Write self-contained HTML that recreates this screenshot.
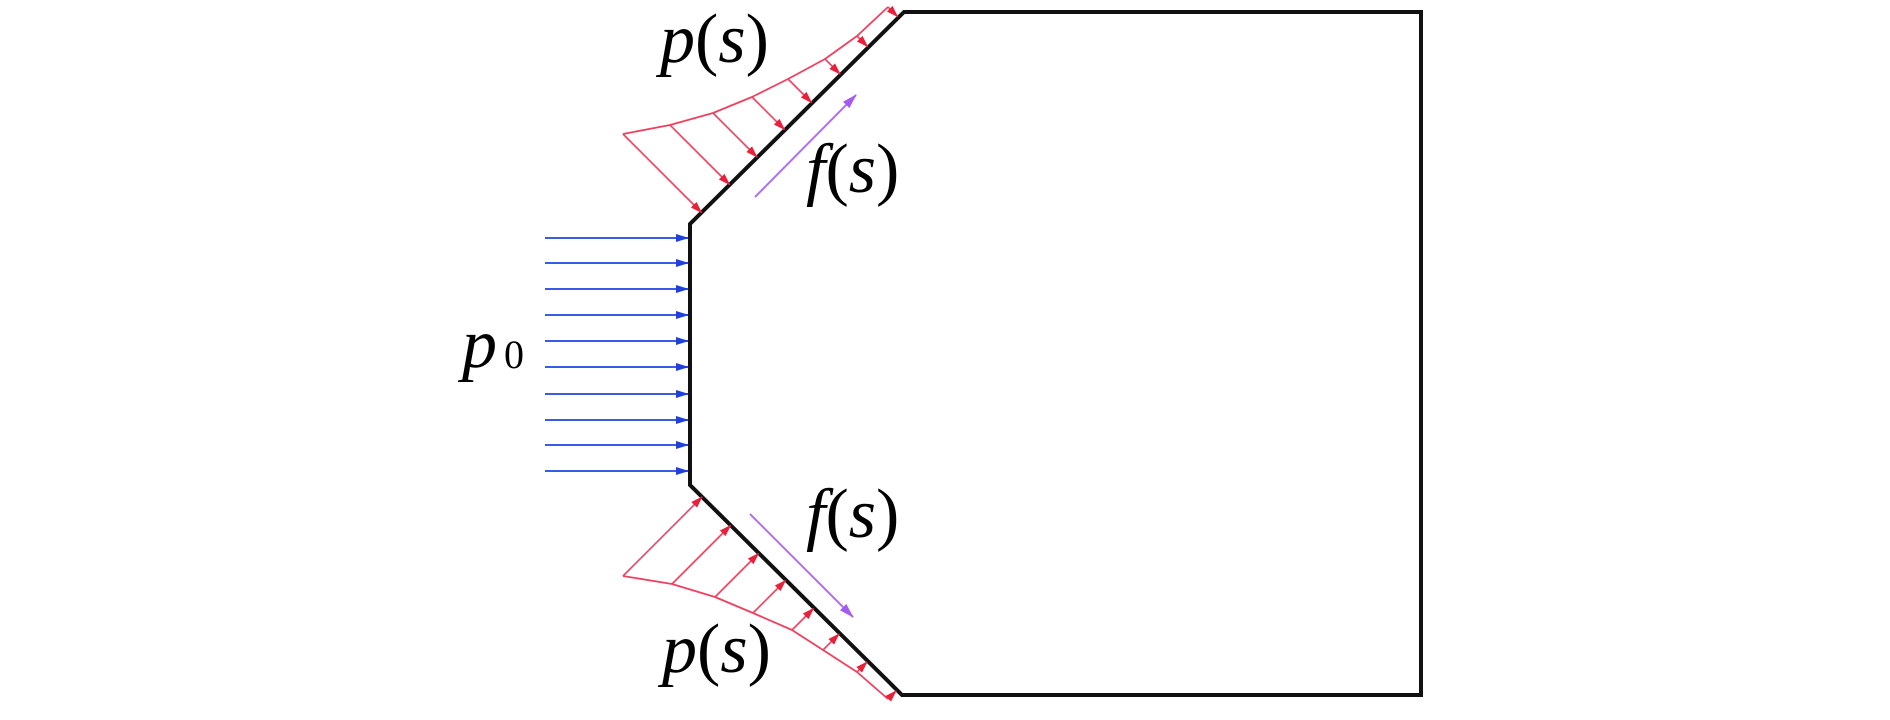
<!DOCTYPE html>
<html><head><meta charset="utf-8"><style>
html,body{margin:0;padding:0;background:#fff;}
svg{display:block;}
</style></head><body>
<svg width="1890" height="720" viewBox="0 0 1890 720" xmlns="http://www.w3.org/2000/svg">
<defs>
<marker id="ar" markerWidth="12" markerHeight="9" refX="11" refY="4.5" orient="auto" markerUnits="userSpaceOnUse"><path d="M0,0.5 L12,4.5 L0,8.5 z" fill="#e8203a"/></marker>
<marker id="ab" markerWidth="13" markerHeight="9" refX="12" refY="4.5" orient="auto" markerUnits="userSpaceOnUse"><path d="M0,0.5 L13,4.5 L0,8.5 z" fill="#1f3fe0"/></marker>
<marker id="ap" markerWidth="15" markerHeight="10" refX="14" refY="5" orient="auto" markerUnits="userSpaceOnUse"><path d="M0,0.5 L15,5 L0,9.5 z" fill="#a45cf0"/></marker>
</defs>
<path d="M904,12 L1421,12 L1421,695 L902,695 L690,485 L690,224 Z" fill="none" stroke="#111" stroke-width="4" stroke-linejoin="miter"/>
<g stroke="#3a5ae8" stroke-width="2" marker-end="url(#ab)">
<line x1="545" y1="238" x2="688" y2="238"/><line x1="545" y1="263" x2="688" y2="263"/>
<line x1="545" y1="289" x2="688" y2="289"/><line x1="545" y1="315" x2="688" y2="315"/>
<line x1="545" y1="341" x2="688" y2="341"/><line x1="545" y1="367" x2="688" y2="367"/>
<line x1="545" y1="394" x2="688" y2="394"/><line x1="545" y1="420" x2="688" y2="420"/>
<line x1="545" y1="445" x2="688" y2="445"/><line x1="545" y1="471" x2="688" y2="471"/>
</g>
<polyline points="623,134 670,125 713,113 752,97 788,79 825,59 857,36 888,7" fill="none" stroke="#f04060" stroke-width="1.8" stroke-linejoin="round"/>
<g stroke="#f04060" stroke-width="1.6" marker-end="url(#ar)">
<line x1="623" y1="134" x2="701.5" y2="212.5"/><line x1="670" y1="125" x2="729.5" y2="184.5"/>
<line x1="713" y1="113" x2="757" y2="157"/><line x1="752" y1="97" x2="784.5" y2="129.5"/>
<line x1="788" y1="79" x2="811.5" y2="102.5"/><line x1="825" y1="59" x2="840" y2="74"/>
<line x1="857" y1="36" x2="867.5" y2="46.5"/><line x1="888" y1="7" x2="897.5" y2="16.5"/>
</g>
<polyline points="623,576 672,584 715,597 753,613 792,630 823,650 857,672 888,699" fill="none" stroke="#f04060" stroke-width="1.8" stroke-linejoin="round"/>
<g stroke="#f04060" stroke-width="1.6" marker-end="url(#ar)">
<line x1="623" y1="576" x2="702" y2="497"/><line x1="672" y1="584" x2="730.5" y2="525.5"/>
<line x1="715" y1="597" x2="758.5" y2="553.5"/><line x1="753" y1="613" x2="785.5" y2="580.5"/>
<line x1="792" y1="630" x2="813.5" y2="608.5"/><line x1="823" y1="650" x2="839" y2="634"/>
<line x1="857" y1="672" x2="867" y2="662"/><line x1="888" y1="699" x2="896" y2="691"/>
</g>
<line x1="755" y1="197" x2="856" y2="95" stroke="#b070f0" stroke-width="2" marker-end="url(#ap)"/>
<line x1="750" y1="514" x2="853" y2="617" stroke="#b070f0" stroke-width="2" marker-end="url(#ap)"/>
<g font-family="Liberation Serif, Times New Roman, serif" font-size="70" fill="#000">
<text x="660" y="62"><tspan font-style="italic">p</tspan>(<tspan font-style="italic">s</tspan>)</text>
<text x="806" y="192"><tspan font-style="italic">f</tspan>(<tspan font-style="italic">s</tspan>)</text>
<text x="806" y="537"><tspan font-style="italic">f</tspan>(<tspan font-style="italic">s</tspan>)</text>
<text x="662" y="672"><tspan font-style="italic">p</tspan>(<tspan font-style="italic">s</tspan>)</text>
<text x="462" y="367" font-style="italic">p</text>
<text x="504" y="368" font-size="40">0</text>
</g>
</svg>
</body></html>
